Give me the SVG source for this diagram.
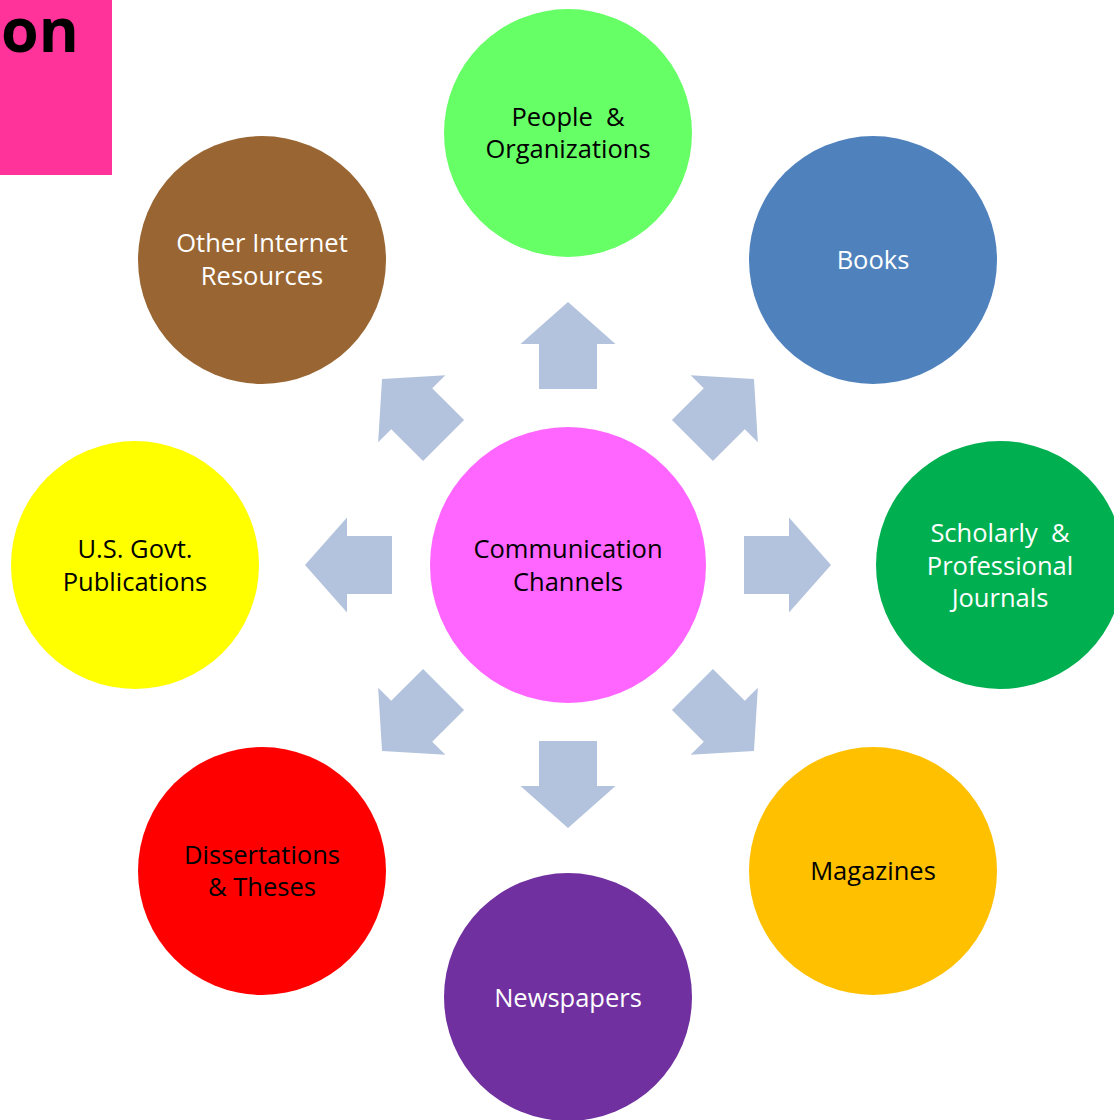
<svg xmlns="http://www.w3.org/2000/svg" width="1114" height="1120" viewBox="0 0 1114 1120">
<style>
.lbl{font-family:"Open Sans","Liberation Sans",sans-serif;font-size:25.5px;text-anchor:middle;white-space:pre}
.w{fill:#ffffff}
.k{fill:#000000}
.arrow{fill:#B3C3DD}
</style>
<defs>
<polygon id="arr" points="-29,-176 -29,-221 -47.5,-221 0,-263 47.5,-221 29,-221 29,-176"/>
</defs>
<rect width="1114" height="1120" fill="#ffffff"/>
<g id="title">
<rect x="0" y="0" width="112" height="175" fill="#FF3399"/>
<text x="1" y="52" font-family="'Open Sans','Liberation Sans',sans-serif" font-weight="bold" font-size="61" fill="#000">on</text>
</g>
<g id="connectors" class="arrow">
<use href="#arr" transform="translate(568,565)"/>
<use href="#arr" transform="translate(568,565) rotate(45)"/>
<use href="#arr" transform="translate(568,565) rotate(90)"/>
<use href="#arr" transform="translate(568,565) rotate(135)"/>
<use href="#arr" transform="translate(568,565) rotate(180)"/>
<use href="#arr" transform="translate(568,565) rotate(225)"/>
<use href="#arr" transform="translate(568,565) rotate(270)"/>
<use href="#arr" transform="translate(568,565) rotate(315)"/>
</g>
<g id="hub">
<circle cx="568" cy="565" r="138" fill="#FF66FF"/>
<text class="lbl k" x="568" y="558">Communication</text>
<text class="lbl k" x="568" y="591">Channels</text>
</g>
<g id="people">
<circle cx="568" cy="133" r="124" fill="#66FF66"/>
<text class="lbl k" x="568" y="126">People  &amp;</text>
<text class="lbl k" x="568" y="158">Organizations</text>
</g>
<g id="books">
<circle cx="873" cy="260" r="124" fill="#4F81BD"/>
<text class="lbl w" x="873" y="269">Books</text>
</g>
<g id="scholarly">
<circle cx="1000" cy="565" r="124" fill="#00B050"/>
<text class="lbl w" x="1000" y="542">Scholarly  &amp;</text>
<text class="lbl w" x="1000" y="575">Professional</text>
<text class="lbl w" x="1000" y="607">Journals</text>
</g>
<g id="magazines">
<circle cx="873" cy="871" r="124" fill="#FFC000"/>
<text class="lbl k" x="873" y="880">Magazines</text>
</g>
<g id="newspapers">
<circle cx="568" cy="997" r="124" fill="#7030A0"/>
<text class="lbl w" x="568" y="1007">Newspapers</text>
</g>
<g id="dissertations">
<circle cx="262" cy="871" r="124" fill="#FF0000"/>
<text class="lbl k" x="262" y="864">Dissertations</text>
<text class="lbl k" x="262" y="896">&amp; Theses</text>
</g>
<g id="govt">
<circle cx="135" cy="565" r="124" fill="#FFFF00"/>
<text class="lbl k" x="135" y="558">U.S. Govt.</text>
<text class="lbl k" x="135" y="591">Publications</text>
</g>
<g id="internet">
<circle cx="262" cy="260" r="124" fill="#996633"/>
<text class="lbl w" x="262" y="252">Other Internet</text>
<text class="lbl w" x="262" y="285">Resources</text>
</g>
</svg>
